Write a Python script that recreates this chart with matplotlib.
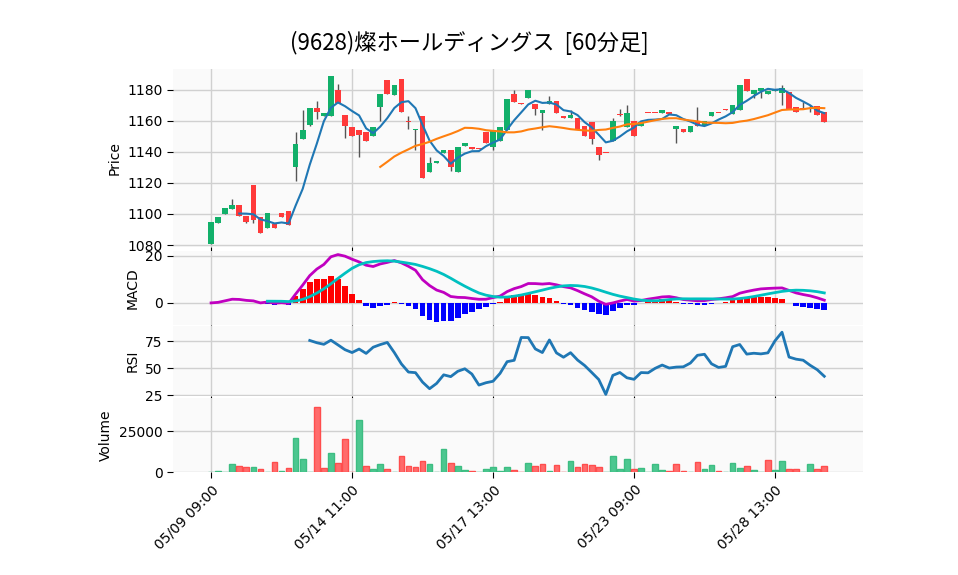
import matplotlib
matplotlib.use("Agg")
import matplotlib.pyplot as plt
import numpy as np
import pandas as pd

# 60-minute bars
opens = [1080.6, 1094, 1100, 1103.4, 1105.8, 1099, 1118.7, 1098, 1090.8, 1093.3,
         1100.6, 1102, 1130, 1148.2, 1157.6, 1168.6, 1163.4, 1163, 1180.2, 1163.9,
         1156.3, 1154.4, 1153, 1150, 1169, 1186.7, 1177, 1187.3, 1159.8, 1154,
         1163.4, 1127, 1133, 1139.5, 1141.3, 1127, 1143.6, 1143.2, 1142.2, 1153,
         1143.2, 1147, 1154.4, 1177.6, 1171.4, 1174.6, 1171, 1165, 1170.8, 1173,
         1163.4, 1161.7, 1162, 1157, 1159.6, 1143.4, 1139.6, 1147, 1164.2, 1156,
         1160.2, 1156.6, 1165.2, 1165.2, 1165, 1166, 1154.6, 1155, 1152.7, 1160.2,
         1157.6, 1163, 1165.2, 1167.5, 1164.7, 1167, 1187.3, 1177.4, 1179, 1177.2,
         1179.6, 1177.8, 1178.5, 1168.8, 1168.2, 1167.6, 1169.5, 1166]
closes = [1095, 1098, 1104, 1106, 1098.5, 1094.6, 1096, 1087.5, 1100.6, 1090.8,
          1097.8, 1092.7, 1145.4, 1154.4, 1168.6, 1165.6, 1165, 1188.8, 1171.6, 1156.6,
          1150, 1150.8, 1147, 1156.3, 1177.6, 1177.4, 1183.4, 1165.8, 1159.6, 1155,
          1123.4, 1132.7, 1134.4, 1141.5, 1130, 1143, 1145.8, 1142, 1142, 1145.8,
          1154.4, 1156, 1174, 1172, 1171.2, 1180, 1168, 1167, 1173, 1165,
          1161.7, 1164, 1155, 1150.3, 1148.4, 1137.8, 1139.4, 1160.2, 1164, 1165,
          1150, 1159.4, 1165, 1165, 1167, 1164.5, 1157, 1152.7, 1157, 1156.6,
          1160.2, 1165.6, 1165, 1167.3, 1170.3, 1183.4, 1179, 1180.2, 1181.3, 1179.6,
          1180.4, 1181, 1167.7, 1165.6, 1168, 1168.2, 1163.7, 1159.6]
highs = [1095, 1098, 1104, 1109.7, 1105.8, 1099, 1118.7, 1098, 1100.6, 1093.3,
         1100.6, 1102, 1153, 1167, 1168.6, 1173, 1165, 1188.8, 1184, 1163.9,
         1156.3, 1154.4, 1153, 1156.3, 1177.6, 1186.7, 1183.4, 1187.3, 1163, 1155,
         1163.4, 1137, 1134.4, 1141.5, 1141.3, 1143, 1145.8, 1143.2, 1142.2, 1153,
         1154.4, 1156, 1174, 1180, 1171.4, 1180, 1171, 1167, 1176, 1173,
         1163.4, 1167, 1162, 1157, 1159.6, 1143.4, 1139.6, 1162, 1168, 1170.5,
         1160.2, 1159.4, 1165.2, 1165.2, 1167, 1166, 1157, 1155, 1157, 1169,
         1160.2, 1165.6, 1165.2, 1167.5, 1170.3, 1183.4, 1187.3, 1180.2, 1181.3, 1179.6,
         1180.4, 1183.4, 1178.5, 1168.8, 1172, 1170, 1169.5, 1166]
lows = [1080.6, 1094, 1100, 1103.4, 1098.5, 1094, 1094, 1087.5, 1090.8, 1090.8,
        1097.8, 1092.7, 1121, 1148.2, 1156.8, 1161, 1163.4, 1163, 1171.6, 1149,
        1150, 1136.8, 1147, 1150, 1160, 1177.4, 1177, 1165.8, 1155, 1141.5,
        1123.4, 1127, 1133, 1139.5, 1127.5, 1127, 1143.6, 1142, 1142, 1145.8,
        1141, 1147, 1154.4, 1172, 1171.2, 1174.6, 1164, 1154.4, 1170.8, 1165,
        1161.7, 1161.7, 1155, 1150.3, 1145.4, 1134.8, 1139.4, 1147, 1163, 1156,
        1150, 1156.6, 1165, 1165, 1165, 1164.5, 1145.8, 1152.7, 1152.7, 1156.6,
        1157.6, 1163, 1165, 1167.3, 1164.7, 1167, 1179, 1175, 1175, 1177.2,
        1179.6, 1170.5, 1167.7, 1165.6, 1167.8, 1166, 1163.7, 1159.6]
volumes = [0, 400, 0, 5240, 3430, 2820, 2820, 1610, 0, 6450,
           400, 2220, 20970, 8270, 0, 40320, 2220, 11900, 5850, 20360,
           0, 31850, 3430, 1610, 4640, 1610, 0, 10080, 3430, 2820,
           7060, 4640, 0, 14310, 5850, 3430, 1010, 400, 0, 1610,
           2820, 400, 2820, 1010, 0, 5850, 3430, 5240, 400, 4030,
           0, 7060, 2820, 4640, 4030, 2820, 0, 10080, 1610, 8270,
           1610, 2220, 0, 4640, 1010, 400, 4640, 400, 0, 6450,
           1610, 4030, 400, 0, 5850, 2220, 3430, 1010, 0, 7660,
           1010, 7060, 1610, 1610, 0, 5240, 1610, 3430]
tick_pos = [0, 20, 40, 60, 80]
tick_labels = ["05/09 09:00", "05/14 11:00", "05/17 13:00", "05/23 09:00", "05/28 13:00"]

df = pd.DataFrame({"Open": opens, "High": highs, "Low": lows, "Close": closes, "Volume": volumes})
x = np.arange(len(df))
up = df["Close"] >= df["Open"]
sma5 = df["Close"].rolling(5).mean()
sma25 = df["Close"].rolling(25).mean()
ema12 = df["Close"].ewm(span=12, adjust=False).mean()
ema26 = df["Close"].ewm(span=26, adjust=False).mean()
macd = ema12 - ema26
signal = macd.rolling(9).mean()
hist = macd - signal
delta = df["Close"].diff()
gain = delta.clip(lower=0).rolling(14).mean()
loss = (-delta.clip(upper=0)).rolling(14).mean()
rsi = 100 - 100 / (1 + gain / loss)
vol_up = df["Close"].diff().fillna(0) >= 0

GREEN = "#12b06a"
RED = "#ff3a3a"
BG = "#fafafa"
GRID = "#d0d0d0"

fig = plt.figure(figsize=(9.58, 5.75), dpi=100)
L, W = 0.1806, 0.7203
ax_p = fig.add_axes([L, 0.5704, W, 0.3096])
ax_m = fig.add_axes([L, 0.4348, W, 0.1287], sharex=ax_p)
ax_r = fig.add_axes([L, 0.3113, W, 0.1217], sharex=ax_p)
ax_v = fig.add_axes([L, 0.1791, W, 0.1287], sharex=ax_p)

for ax in (ax_p, ax_m, ax_r, ax_v):
    ax.set_facecolor(BG)
    ax.grid(True, color=GRID, lw=1)
    ax.set_axisbelow(True)
    for s in ax.spines.values():
        s.set_visible(False)
    ax.tick_params(axis="y", length=4, labelsize=10)
    ax.tick_params(axis="x", length=4, labelbottom=False)

# candles
colors = np.where(up, GREEN, RED)
ax_p.vlines(x, df["Low"], df["High"], color="#555555", lw=1, zorder=2)
body = (df["Close"] - df["Open"]).abs().clip(lower=0.6)
ax_p.bar(x, body, bottom=np.minimum(df["Open"], df["Close"]), width=0.8,
         color=colors, zorder=3)
ax_p.plot(x, sma5, color="#1f77b4", lw=1.5, zorder=4)
ax_p.plot(x, sma25, color="#ff7f0e", lw=1.5, zorder=4)
ax_p.set_ylim(1078.7, 1193.5)
ax_p.set_yticks([1080, 1100, 1120, 1140, 1160, 1180])
ax_p.set_ylabel("Price", fontsize=10)

# MACD
hcol = np.where(hist >= 0, "red", "blue")
ax_m.bar(x, hist, width=0.8, color=hcol)
ax_m.plot(x, macd, color="#c000c0", lw=2)
ax_m.plot(x, signal, color="#00c0c0", lw=2)
ax_m.set_ylim(-9.4, 22.1)
ax_m.set_yticks([0, 20])
ax_m.set_ylabel("MACD", fontsize=10)

# RSI
ax_r.plot(x, rsi, color="#1f77b4", lw=2)
ax_r.set_ylim(24.5, 89)
ax_r.set_yticks([25, 50, 75])
ax_r.set_ylabel("RSI", fontsize=10)

# volume
vcol = np.where(vol_up, "#4cc790", "#ff6b6b")
ecol = np.where(vol_up, "#3dbd82", "#ff4d4d")
ax_v.bar(x, df["Volume"], width=0.8, color=vcol, edgecolor=ecol, lw=1)
ax_v.set_ylim(0, 45600)
ax_v.set_yticks([0, 25000])
ax_v.set_ylabel("Volume", fontsize=10)

ax_v.set_xlim(-5.4, 92.5)
ax_v.set_xticks(tick_pos)
ax_v.tick_params(axis="x", labelbottom=True, labelsize=10)
ax_v.set_xticklabels(tick_labels, rotation=45, ha="right", rotation_mode="anchor")

fig.text(0.49, 0.925, "(9628)燦ホールディングス  [60分足]", ha="center", va="center",
         fontsize=16, fontfamily="Noto Sans CJK JP")

fig.savefig("out.png", dpi=100)
